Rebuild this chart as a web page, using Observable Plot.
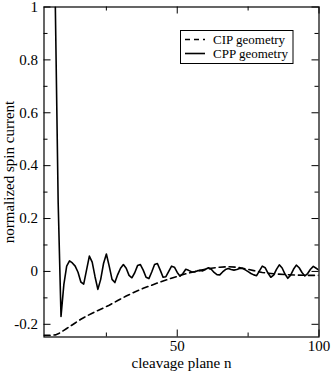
<!DOCTYPE html>
<html><head><meta charset="utf-8">
<script src="https://cdn.jsdelivr.net/npm/d3@7"></script>
<script src="https://cdn.jsdelivr.net/npm/@observablehq/plot@0.6"></script>
<style>
body{margin:0;background:#fff;}
#wrap{position:relative;width:332px;height:372px;}
#legend{position:absolute;left:180px;top:30px;}
</style></head><body><div id="wrap"></div>
<script>
// CIP geometry (dashed)
const cipN = [3,5,7,8,9,10,11,12,14,16,18,20,23,26,29,32,35,38,41,44,47,50,53,56,59,62,65,68,71,74,77,80,84,88,92,96,100];
const cipY = [-0.242,-0.242,-0.24,-0.236,-0.23,-0.223,-0.216,-0.209,-0.195,-0.181,-0.169,-0.158,-0.143,-0.128,-0.11,-0.093,-0.078,-0.064,-0.052,-0.04,-0.029,-0.019,-0.009,-0.001,0.006,0.012,0.016,0.018,0.016,0.01,0.003,-0.004,-0.009,-0.012,-0.014,-0.015,-0.015];
// CPP geometry (solid), n = 7..100
const cppN = d3.range(7, 101);
const cppY = [1.0,0.26,-0.17,-0.05,0.02,0.04,0.032,0.02,-0.003,-0.04,-0.048,0.005,0.058,0.035,-0.02,-0.068,-0.03,0.03,0.066,0.02,
-0.03,-0.042,-0.012,0.012,0.026,0.012,-0.015,-0.024,-0.005,0.022,0.026,0.005,-0.022,-0.027,-0.002,0.026,0.03,0.005,-0.022,-0.02,
0.0,0.02,0.016,-0.004,-0.018,-0.008,0.008,0.004,-0.001,-0.002,0.002,0.004,0.002,0.008,0.014,0.008,-0.004,-0.012,-0.013,-0.002,
0.007,0.011,0.007,0.005,0.007,0.011,0.012,0.006,-0.001,-0.008,-0.013,-0.016,0.002,0.02,0.014,-0.006,-0.022,-0.014,0.008,0.025,
0.013,-0.01,-0.026,-0.014,0.008,0.024,0.014,-0.004,-0.017,-0.008,0.008,0.019,0.012,0.005];
const xMajor = [50, 100];
const xMinor = [25, 75];
const yMajor = [-0.2, 0, 0.2, 0.4, 0.6, 0.8, 1];
const yMinor = [-0.1, 0.1, 0.3, 0.5, 0.7, 0.9];
const seriesNames = ["CIP geometry", "CPP geometry"];

const cip = cipN.map((n, i) => ({n, v: cipY[i]}));
const cpp = cppN.map((n, i) => ({n, v: cppY[i]}));

const W = 332, H = 372, mL = 43.5, mR = 13.5, mT = 6.5, mB = 35.5;
const pW = W - mL - mR, pH = H - mT - mB;
const majL = 7, minL = 4;

const chart = Plot.plot({
  width: W, height: H,
  marginLeft: mL, marginRight: mR, marginTop: mT, marginBottom: mB,
  style: {fontFamily: "'Liberation Serif', serif", fontSize: "15px", color: "#000", background: "#fff"},
  x: {domain: [3, 100]},
  y: {domain: [-0.248, 1]},
  marks: [
    Plot.axisX(xMajor, {tickSize: 0, tickPadding: 3, tickFormat: d => String(d), label: "cleavage plane n", labelAnchor: "center", labelOffset: 30.5, labelArrow: false, fontSize: 15}),
    Plot.axisY(yMajor, {tickSize: 0, tickPadding: 6, tickFormat: d => String(d), label: "normalized spin current", labelAnchor: "center", labelOffset: 41, labelArrow: false, fontSize: 15}),
    Plot.line(cip, {x: "n", y: "v", stroke: "#000", strokeWidth: 1.6, strokeDasharray: "6,4", clip: true}),
    Plot.line(cpp, {x: "n", y: "v", stroke: "#000", strokeWidth: 1.6, clip: true}),
    Plot.tickX(xMajor, {x: d => d, insetTop: pH - majL, stroke: "#000"}),
    Plot.tickX(xMajor, {x: d => d, insetBottom: pH - majL, stroke: "#000"}),
    Plot.tickX(xMinor, {x: d => d, insetTop: pH - minL, stroke: "#000"}),
    Plot.tickX(xMinor, {x: d => d, insetBottom: pH - minL, stroke: "#000"}),
    Plot.tickY(yMajor, {y: d => d, insetRight: pW - majL, stroke: "#000"}),
    Plot.tickY(yMajor, {y: d => d, insetLeft: pW - majL, stroke: "#000"}),
    Plot.tickY(yMinor, {y: d => d, insetRight: pW - minL, stroke: "#000"}),
    Plot.tickY(yMinor, {y: d => d, insetLeft: pW - minL, stroke: "#000"}),
    Plot.frame({stroke: "#000", strokeWidth: 1.2})
  ]
});
const wrap = document.getElementById("wrap");
wrap.appendChild(chart);

// legend overlay
const lg = d3.select(wrap).append("svg").attr("id", "legend").attr("width", 114).attr("height", 35);
lg.append("rect").attr("x", 0.5).attr("y", 0.5).attr("width", 112.5).attr("height", 33).attr("fill", "#fff").attr("stroke", "#000");
seriesNames.forEach((name, i) => {
  const yy = 9.5 + i * 14;
  lg.append("line").attr("x1", 5).attr("x2", 25).attr("y1", yy).attr("y2", yy)
    .attr("stroke", "#000").attr("stroke-width", 1.6).attr("stroke-dasharray", i === 0 ? "5,4" : null);
  lg.append("text").attr("x", 33).attr("y", yy + 4.5).text(name)
    .attr("font-family", "'Liberation Serif', serif").attr("font-size", 13).attr("fill", "#000");
});
</script></body></html>
